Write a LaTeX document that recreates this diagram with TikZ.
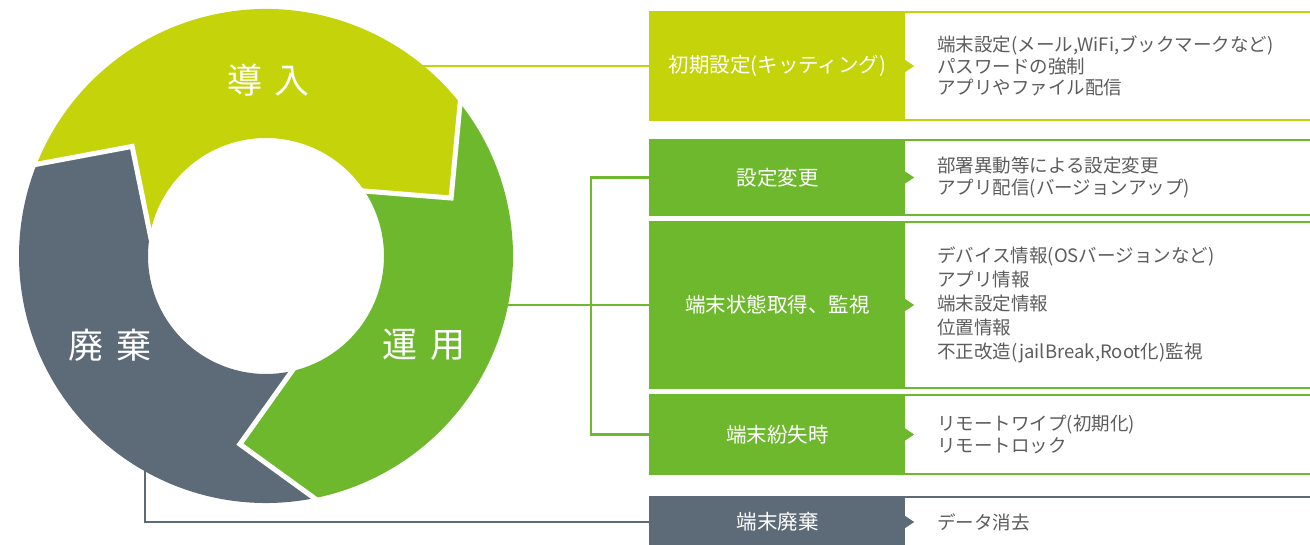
\documentclass[tikz,border=0pt]{standalone}
\usepackage{fontspec}
\setmainfont{Noto Sans CJK JP}
\usetikzlibrary{positioning, calc}
\definecolor{yel}{HTML}{C4D30A}
\definecolor{grn}{HTML}{6EB82E}
\definecolor{gry}{HTML}{5D6A77}
\definecolor{txt}{HTML}{5C5C5C}

\begin{document}
\begin{tikzpicture}[x=1pt, y=1pt,
  box/.style={fill=#1, text=white, minimum width=255pt, inner sep=0pt, font=\fontsize{20.5}{24}\selectfont},
  desc/.style={align=left, text=txt, inner sep=0pt, font=\fontsize{18.5}{21.5}\selectfont},
  stage/.style={text=white, font=\fontsize{35}{40}\selectfont},
  gap/.style={white, line width=5pt},
  link/.style={#1, line width=2.5pt}]
\clip (0,0) rectangle (1310,545);

% boxes on the right
\node[box=yel, minimum height=108pt] (kit) at (777.5,479) {初期設定(キッティング)};
\node[box=grn, minimum height=75pt] (chg) at (777.5,367.5) {設定変更};
\node[box=grn, minimum height=166pt] (mon) at (777.5,240) {端末状態取得、監視};
\node[box=grn, minimum height=79pt] (lost) at (777.5,110.5) {端末紛失時};
\node[box=gry, minimum height=50pt] (disp) at (777.5,23) {端末廃棄};
\coordinate (edge) at (1330,0);
\foreach \n/\c in {kit/yel, chg/grn, mon/grn, lost/grn, disp/gry}
{
    \draw[\c, line width=2.5pt] (\n.north west) rectangle (\n.south -| edge);
    \fill[\c] (\n.east) ++(0,6) -- ++(9,-6) -- ++(-9,-6) -- cycle;
}

\node[desc, right=32pt of kit] (kitd) {端末設定(メール,WiFi,ブックマークなど)\\パスワードの強制\\アプリやファイル配信};
\node[desc, right=32pt of chg] (chgd) {部署異動等による設定変更\\アプリ配信(バージョンアップ)};
\node[desc, right=32pt of mon, font=\fontsize{18.5}{24}\selectfont] (mond) {デバイス情報(OSバージョンなど)\\アプリ情報\\端末設定情報\\位置情報\\不正改造(jailBreak,Root化)監視};
\node[desc, right=32pt of lost] (lostd) {リモートワイプ(初期化)\\リモートロック};
\node[desc, right=32pt of disp] (dispd) {データ消去};

% connectors
\coordinate (intro) at (415,479);
\coordinate (ops) at (500,240);
\coordinate (bus) at (591,0);
\coordinate (drop) at (145,85);
\draw[link=yel] (intro) -- (kit.west);
\draw[link=grn] (ops) -- (mon.west);
\draw[link=grn] (chg.west) -| (bus |- lost.west) -- (lost.west);
\draw[link=gry] (drop) |- (disp.west);

% ring
\begin{scope}[shift={(266,289)}]
\fill[yel] (158.2:247) arc[start angle=158.2, end angle=38.2, radius=247] -- (17.4:194) -- (33.4:118)
    arc[start angle=33.4, end angle=169.3, radius=118] -- (140.7:173) -- cycle;
\fill[grn] (38.2:247) arc[start angle=38.2, end angle=-78.7, radius=247] -- (-97.9:190) -- (-77.3:118)
    arc[start angle=-77.3, end angle=33.4, radius=118] -- (17.4:194) -- cycle;
\fill[gry] (-78.7:247) arc[start angle=-78.7, end angle=-201.8, radius=247] -- (140.7:173) -- (169.3:118)
    arc[start angle=169.3, end angle=282.7, radius=118] -- (-97.9:190) -- cycle;
\foreach \o/\t/\r/\i in {38.2/17.4/194/33.4, -78.7/-97.9/190/-77.3, 158.2/140.7/173/169.3}
    \draw[gap] ($(\t:\r)!1.1!(\o:247)$) -- (\t:\r) -- ($(\t:\r)!1.1!(\i:118)$);
\end{scope}
\node[stage] (intro label) at (268.5,464.5) {導\hspace{.35em}入};
\node[stage] (ops label) at (424,200) {運\hspace{.35em}用};
\node[stage] (disp label) at (110,200) {廃\hspace{.35em}棄};

\end{tikzpicture}
\end{document}
